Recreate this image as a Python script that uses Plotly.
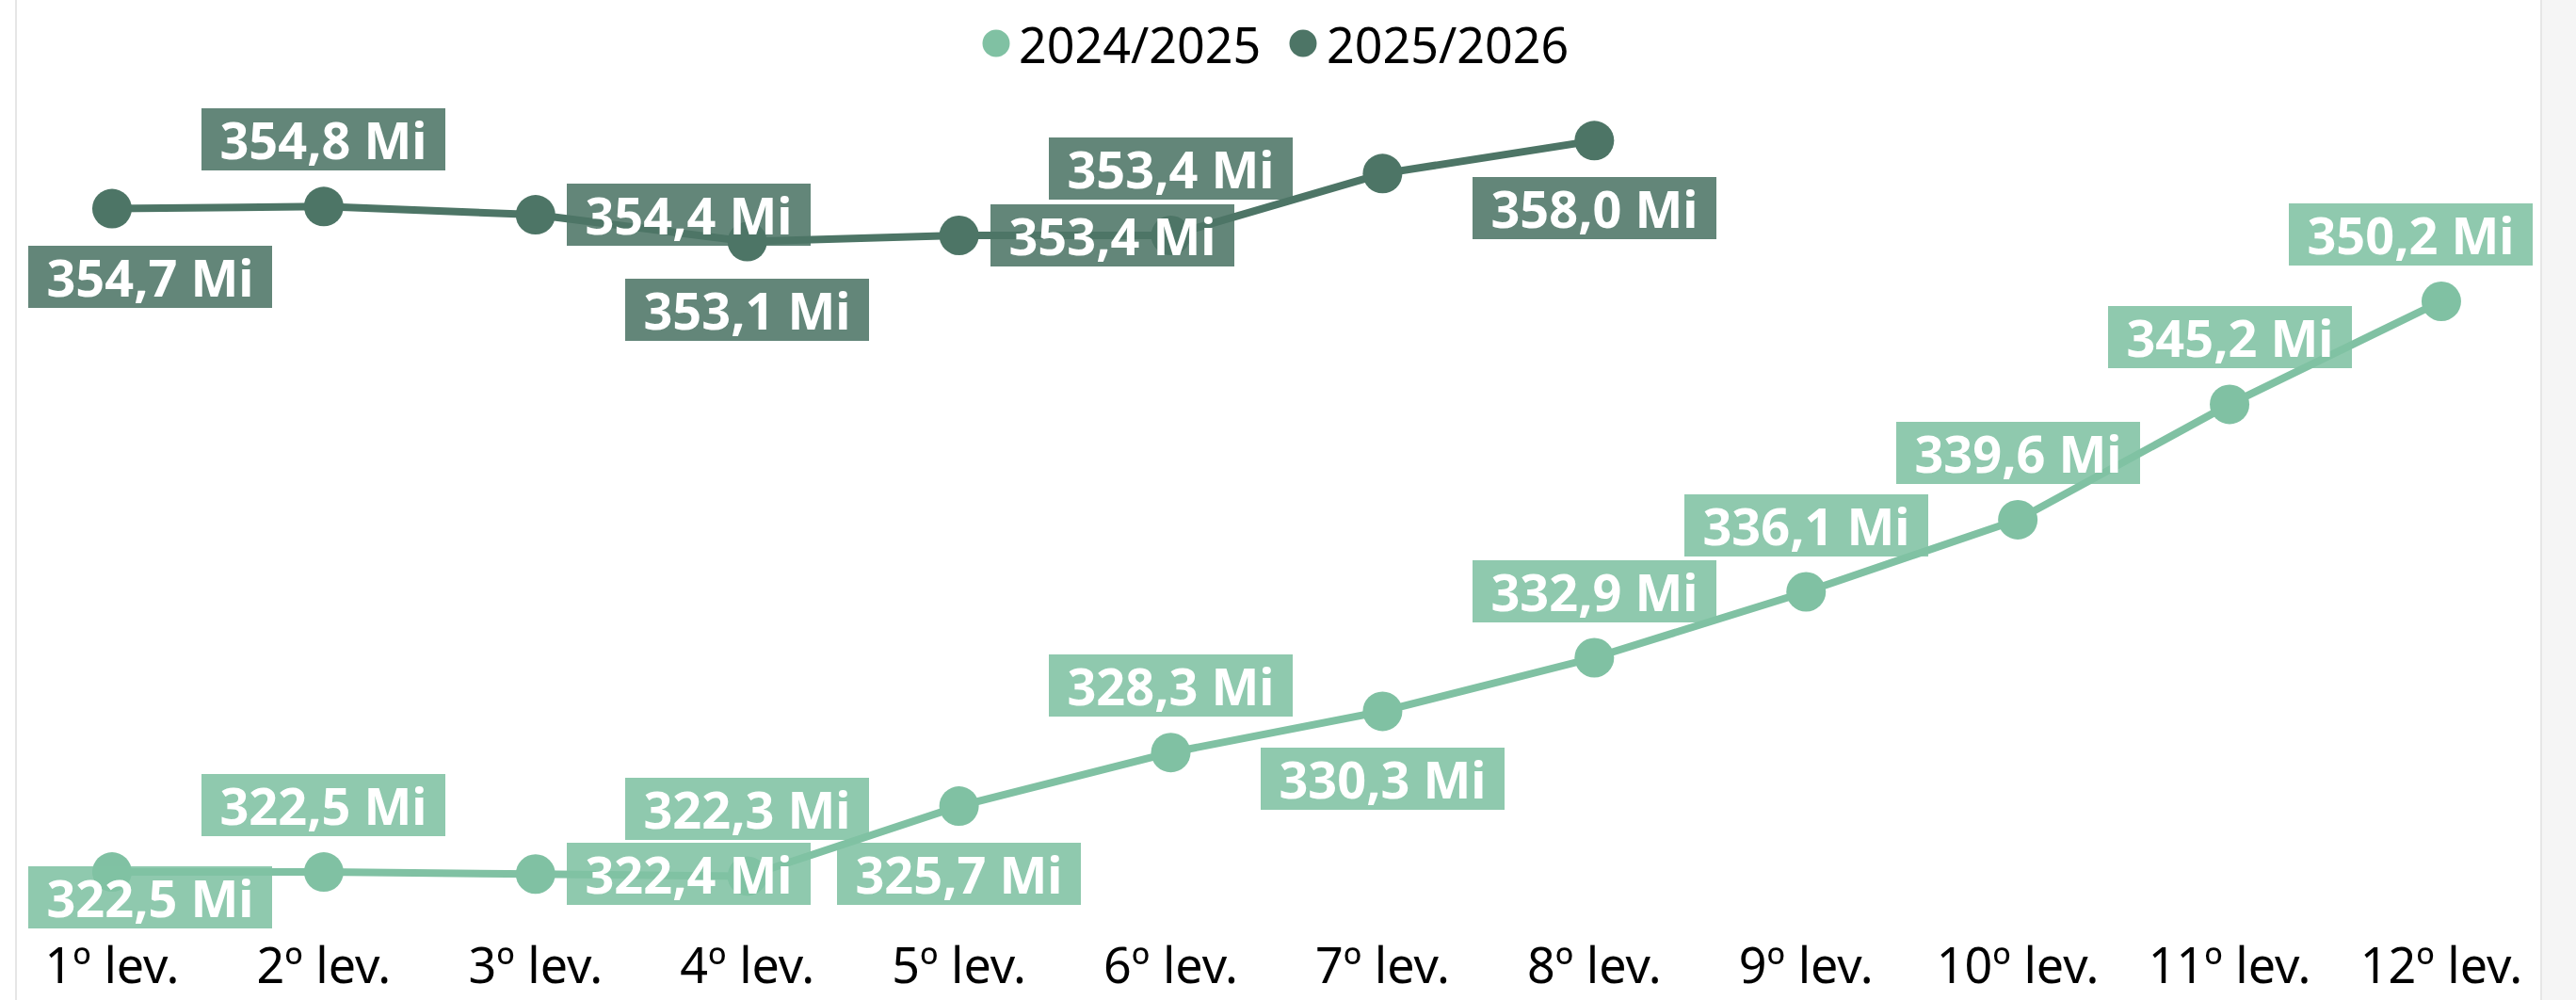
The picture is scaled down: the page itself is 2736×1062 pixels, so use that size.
import plotly.graph_objects as go

# ---------------- data ----------------
categories = ["1º lev.", "2º lev.", "3º lev.", "4º lev.", "5º lev.", "6º lev.",
              "7º lev.", "8º lev.", "9º lev.", "10º lev.", "11º lev.", "12º lev."]
series_names = ["2024/2025", "2025/2026"]
values_2425 = [322.5, 322.5, 322.4, 322.3, 325.7, 328.3, 330.3, 332.9, 336.1, 339.6, 345.2, 350.2]
values_2526 = [354.7, 354.8, 354.4, 353.1, 353.4, 353.4, 356.4, 358.0]

# label placement (style only)
place_2425 = ["below", "above", "right", "above", "below", "above", "below", "above",
              "above", "above", "above", "above"]
place_2526 = ["below", "above", "right", "below", "right", "above", None, "below"]

# ---------------- style ----------------
W, H = 2736, 1062
PLOT_BOTTOM = 985          # pixel row of the x axis
FONT = "Noto Sans"
C_LIGHT = "#80C1A3"
C_DARK = "#4D7566"
BG_LIGHT = "rgba(128,193,163,0.88)"
BG_DARK = "rgba(77,117,102,0.88)"
XR = [-0.529, 11.636]
YR = [319.807, 364.825]
BOX_W, BOX_H = 259, 66
OFFS = {"above": (0, 71), "below": (0, -72), "right": (163, 0)}


def fmt(v):
    return f"{v:.1f}".replace(".", ",") + " Mi"


def px_x(i):
    return (i - XR[0]) / (XR[1] - XR[0]) * W


def px_y(v):
    return (YR[1] - v) / (YR[1] - YR[0]) * PLOT_BOTTOM


fig = go.Figure()
for name, vals, col in [(series_names[0], values_2425, C_LIGHT),
                        (series_names[1], values_2526, C_DARK)]:
    fig.add_trace(go.Scatter(
        x=categories[:len(vals)], y=vals, name=name, mode="lines+markers",
        line=dict(color=col, width=8), marker=dict(color=col, size=42),
        showlegend=False, hoverinfo="x+y"))

annotations = []
for vals, places, bg in [(values_2425, place_2425, BG_LIGHT),
                         (values_2526, place_2526, BG_DARK)]:
    for i, (v, p) in enumerate(zip(vals, places)):
        if p is None:
            continue
        dx, dy = OFFS[p]
        cx = px_x(i) + dx
        cy = px_y(v) - dy
        # keep the box inside the visual
        left = cx - BOX_W / 2
        right = cx + BOX_W / 2
        if left < 30:
            dx += 30 - left
        if right > 2690:
            dx -= right - 2690
        bottom = cy + BOX_H / 2
        if bottom > 986:
            dy += bottom - 986
        annotations.append(dict(
            x=categories[i], y=v, xref="x", yref="y", text=f"<b>{fmt(v)}</b>",
            showarrow=False, xshift=dx, yshift=dy, bgcolor=bg,
            width=BOX_W, height=BOX_H, borderpad=0, borderwidth=0,
            font=dict(family=FONT, size=54, color="white"),
            xanchor="center", yanchor="middle"))

# custom legend (large dots)
shapes = []
legend_items = [(series_names[0], C_LIGHT, 1058, 1080), (series_names[1], C_DARK, 1384, 1407)]
for name, col, mx, tx in legend_items:
    r = 14.5
    shapes.append(dict(type="circle", xref="paper", yref="paper",
                       x0=(mx - r) / W, x1=(mx + r) / W,
                       y0=1 - (46 + r) / H, y1=1 - (46 - r) / H,
                       fillcolor=col, line=dict(width=0)))
    annotations.append(dict(x=tx / W, y=1 - 46 / H, xref="paper", yref="paper",
                            text=name, showarrow=False, xanchor="left", yanchor="middle",
                            font=dict(family=FONT, size=52, color="black")))

# visual frame
shapes.append(dict(type="rect", xref="paper", yref="paper", x0=2699 / W, x1=1, y0=0, y1=1,
                   fillcolor="#F5F5F5", line=dict(width=0), layer="below"))
for xp in (17, 2699):
    shapes.append(dict(type="line", xref="paper", yref="paper", x0=xp / W, x1=xp / W, y0=0, y1=1,
                       line=dict(color="#E6E6E6", width=2), layer="below"))

fig.update_layout(
    width=W, height=H, margin=dict(l=0, r=0, t=0, b=0),
    paper_bgcolor="white", plot_bgcolor="rgba(0,0,0,0)",
    font=dict(family=FONT, color="black"),
    xaxis=dict(type="category", range=XR, showgrid=False, zeroline=False, showline=False,
               ticks="", tickfont=dict(family=FONT, size=52, color="black"),
               ticklabelstandoff=6, fixedrange=True),
    yaxis=dict(range=YR, domain=[1 - PLOT_BOTTOM / H, 1], visible=False, fixedrange=True),
    annotations=annotations, shapes=shapes, showlegend=False,
)

fig.write_html("out.html", config={"displayModeBar": False},
               post_script="document.body.style.margin='0';document.body.style.overflow='hidden';")
